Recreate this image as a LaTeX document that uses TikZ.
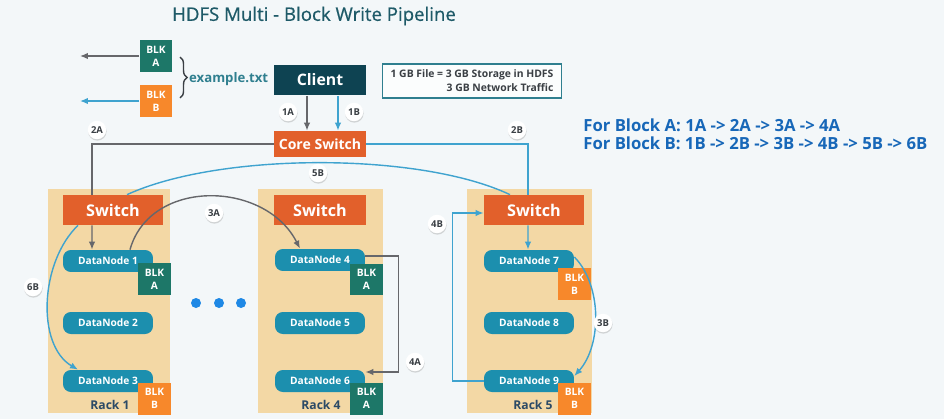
\documentclass[tikz,border=0pt]{standalone}
\usepackage{fontspec}
\setmainfont{Open Sans}
\usetikzlibrary{arrows.meta,calc,positioning,shadows,decorations.pathreplacing}
\definecolor{Paper}{HTML}{F3F7F9}
\definecolor{Heading}{HTML}{1E5A68}
\definecolor{Navy}{HTML}{0E4352}
\definecolor{Flame}{HTML}{E2602B}
\definecolor{Teal}{HTML}{1C8FAE}
\definecolor{Pine}{HTML}{1D7768}
\definecolor{Amber}{HTML}{F7882B}
\definecolor{Sand}{HTML}{F3D8A5}
\definecolor{Slate}{HTML}{66676B}
\definecolor{Sky}{HTML}{3FA3CF}
\definecolor{Ink}{HTML}{2B4A66}
\definecolor{Royal}{HTML}{1767B8}
\definecolor{Dot}{HTML}{1E88E5}
\definecolor{Frame}{HTML}{2F7F8F}
\definecolor{Muted}{HTML}{3A3F44}

\begin{document}
\begin{tikzpicture}[x=0.02cm,y=-0.02cm,
        rack/.style={fill=Sand,minimum width=2.46cm,minimum height=4.5cm,inner sep=0pt},
        switchbox/.style={fill=Flame,text=white,minimum width=2.0cm,minimum height=0.6cm,inner sep=0pt,font=\fontsize{9.2}{10}\selectfont\bfseries},
        datanode/.style={fill=Teal,text=white,rounded corners=4.5pt,minimum width=1.8cm,minimum height=0.44cm,inner sep=0pt,font=\fontsize{5.8}{6.5}\selectfont\bfseries},
        blk/.style={text=white,minimum width=0.66cm,minimum height=0.64cm,inner sep=0pt,align=center,font=\fontsize{5.8}{7.5}\selectfont\bfseries},
        racklabel/.style={text=Ink,font=\fontsize{6.9}{8}\selectfont\bfseries},
        tag/.style={circle,fill=white,minimum size=0.37cm,inner sep=0pt,text=Muted,font=\fontsize{5.4}{6}\selectfont\bfseries,drop shadow={opacity=0.3,shadow xshift=0.2pt,shadow yshift=-0.8pt}},
        garr/.style={-{Latex[length=1.6mm,width=1.3mm]},draw=Slate,line width=0.8pt},
        barr/.style={-{Latex[length=1.6mm,width=1.3mm]},draw=Sky,line width=0.8pt},
        gline/.style={draw=Slate,line width=0.8pt},
        bline/.style={draw=Sky,line width=0.8pt}]
        \fill[Paper] (0,0) rectangle (944,419);
        \useasboundingbox (0,0) rectangle (944,419);

        \node[text=Heading,font=\fontsize{10.6}{12}\selectfont\addfontfeature{FakeBold=0.6}] (title) at (314,16) {HDFS Multi - Block Write Pipeline};

        % file split into blocks
        \node[blk,fill=Pine] (blka) at (156,56) {BLK\\A};
        \node[blk,fill=Amber] (blkb) at (156,101) {BLK\\B};
        \coordinate (outa) at (80,56);
        \coordinate (outb) at (80,101);
        \draw[garr] (blka.west) -- (outa);
        \draw[barr] (blkb.west) -- (outb);
        \coordinate (bt) at (180,57);
        \coordinate (bb) at (180,98);
        \draw[decorate,decoration={brace,amplitude=4pt},draw=Muted,line width=0.8pt] (bt) -- (bb);
        \node[anchor=west,text=Frame,font=\fontsize{7.5}{9}\selectfont\bfseries] (file) at (183,79) {example.txt};

        \node[fill=Navy,text=white,minimum width=1.84cm,minimum height=0.62cm,inner sep=0pt,font=\fontsize{9}{10}\selectfont\bfseries] (client) at (320,80) {Client};
        \node[fill=Flame,text=white,minimum width=1.84cm,minimum height=0.52cm,inner sep=0pt,font=\fontsize{8}{9}\selectfont\bfseries] (core) at (320,144) {Core Switch};
        \node[draw=Frame,line width=0.9pt,fill=white!70!Paper,minimum width=3.58cm,minimum height=0.64cm,align=right,text=Muted,font=\fontsize{5.9}{8}\selectfont\bfseries] (info) at (472,81) {1 GB File = 3 GB Storage in HDFS\\3 GB Network Traffic};

        \node[anchor=west,align=left,inner sep=0pt,text=Royal,font=\fontsize{9.5}{10.3}\selectfont\bfseries] (order) at (583,134) {For Block A: 1A -> 2A -> 3A -> 4A\\For Block B: 1B -> 2B -> 3B -> 4B -> 5B -> 6B};

        % racks
        \node[rack] (rack1) at (109,301) {};
        \node[rack,minimum width=2.5cm] (rack4) at (320.5,301) {};
        \node[rack,minimum width=2.5cm] (rack5) at (529.5,301) {};
        \node[switchbox] (sw1) at (113,210) {Switch};
        \node[switchbox,minimum width=1.84cm] (sw4) at (320,210) {Switch};
        \node[switchbox] (sw5) at (534,210) {Switch};
        \node[datanode] (dn1) at (108,261) {DataNode 1};
        \node[datanode] (dn2) at (108,323) {DataNode 2};
        \node[datanode] (dn3) at (108,381) {DataNode 3};
        \node[datanode] (dn4) at (320,260) {DataNode 4};
        \node[datanode] (dn5) at (320,323) {DataNode 5};
        \node[datanode] (dn6) at (320,381) {DataNode 6};
        \node[datanode] (dn7) at (529,261) {DataNode 7};
        \node[datanode] (dn8) at (529,323) {DataNode 8};
        \node[datanode] (dn9) at (529,381) {DataNode 9};
        \node[racklabel] (r1) at (110,405) {Rack 1};
        \node[racklabel] (r4) at (321,405) {Rack 4};
        \node[racklabel] (r5) at (533,405) {Rack 5};
        \node[blk,fill=Pine] (b1a) at (154.5,279) {BLK\\A};
        \node[blk,fill=Amber] (b1b) at (154.5,398.5) {BLK\\B};
        \node[blk,fill=Pine] (b4a) at (366.5,279.5) {BLK\\A};
        \node[blk,fill=Pine] (b6a) at (366.5,398.5) {BLK\\A};
        \node[blk,fill=Amber] (b7b) at (574.5,284) {BLK\\B};
        \node[blk,fill=Amber] (b9b) at (574.5,398.5) {BLK\\B};
        \foreach \x in {196,219,241}
          \fill[Dot] (\x,303) circle (0.1cm);

        % block A
        \draw[garr] ([xshift=-0.26cm]client.south) -- ([xshift=-0.26cm]core.north);
        \draw[gline] (core.west) -| ([xshift=-0.42cm]sw1.north);
        \draw[garr] ([xshift=-0.42cm]sw1.south) -- ([xshift=-0.32cm]dn1.north);
        \draw[garr] ([xshift=0.44cm]dn1.north) .. controls (150,178) and (265,180) .. ([xshift=-0.4cm]dn4.north);
        \draw[garr] ([yshift=0.08cm]dn4.east) -- ++(33,0) |- ([yshift=0.18cm]dn6.east);

        % block B
        \draw[barr] ([xshift=0.36cm]client.south) -- ([xshift=0.36cm]core.north);
        \draw[gline,draw=Sky] (core.east) -| ([xshift=-0.12cm]sw5.north);
        \draw[barr] ([xshift=-0.12cm]sw5.south) -- ([xshift=-0.02cm]dn7.north);
        \draw[barr] ([yshift=0.08cm]dn7.east) .. controls (602,285) and (602,345) .. ([yshift=0.1cm]dn9.east);
        \draw[barr] (dn9.west) -- ++(-31,0) |- ([yshift=-0.06cm]sw5.west);
        \draw[bline] ([xshift=-0.48cm]sw5.north) .. controls (420,152) and (220,152) .. ([xshift=0.28cm]sw1.north);
        \draw[barr] ([xshift=-0.7cm]sw1.south) .. controls (40,262) and (36,345) .. ([xshift=-0.6cm]dn3.north);

        % step tags
        \node[tag] (t1a) at (288,112) {1A};
        \node[tag] (t1b) at (354,112) {1B};
        \node[tag] (t2a) at (97,130) {2A};
        \node[tag] (t2b) at (517,130) {2B};
        \node[tag] (t3a) at (214,213) {3A};
        \node[tag] (t4a) at (415,362) {4A};
        \node[tag] (t3b) at (603,323) {3B};
        \node[tag] (t4b) at (437,224) {4B};
        \node[tag] (t5b) at (318,173) {5B};
        \node[tag] (t6b) at (33,287) {6B};
      \end{tikzpicture}
\end{document}
